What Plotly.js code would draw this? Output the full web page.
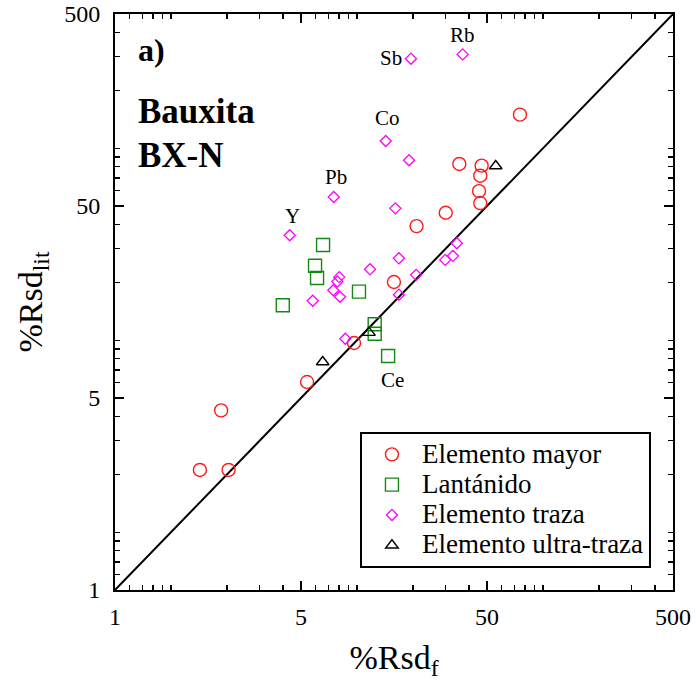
<!DOCTYPE html>
<html>
<head>
<meta charset="utf-8">
<script src="https://cdn.plot.ly/plotly-3.0.1.min.js"></script>
<style>
  html, body { margin: 0; padding: 0; background: #ffffff; }
  #chart { width: 696px; height: 685px; }
</style>
</head>
<body>
<div id="chart"></div>
<script>
// %Rsd found (x) versus %Rsd from the literature (y), bauxite BX-N

// Elemento mayor
const mayorX = [75.2, 35.5, 46.8, 46.0, 45.3, 46.0, 30.0, 20.9, 15.8, 9.64, 5.39, 1.86, 1.43, 2.04];
const mayorY = [149.5, 82.8, 81.1, 71.9, 59.8, 51.8, 46.1, 39.3, 20.1, 9.67, 6.06, 4.31, 2.11, 2.11];

// Lantánido
const lantX = [6.57, 5.95, 6.10, 3.99, 10.25, 12.45, 12.45, 14.7];
const lantY = [31.3, 24.4, 21.1, 15.2, 17.9, 12.1, 10.8, 8.27];
const lantLabels = ['', '', '', '', '', '', '', 'Ce'];

// Elemento traza
const trazaX = [37.0, 19.5, 14.27, 19.04, 7.50, 16.07, 4.35, 34.4, 32.8, 29.8,
                16.8, 11.75, 20.8, 8.03, 7.84, 7.46, 8.10, 5.78, 16.8, 8.65];
const trazaY = [308, 292.6, 109, 86.5, 55.7, 48.6, 35.2, 32.0, 27.5, 26.2,
                26.7, 23.4, 21.9, 21.3, 20.2, 18.2, 16.85, 16.06, 17.26, 10.18];
const trazaLabels = ['Rb', 'Sb', 'Co', '', 'Pb', '', 'Y', '', '', '',
                     '', '', '', '', '', '', '', '', '', ''];

// Elemento ultra-traza
const ultraX = [55.7, 6.54, 11.6];
const ultraY = [80.8, 7.70, 10.95];

// 1:1 reference line and axis ticks
const identity = [0.5, 500];
const tickVals = [0.5, 5, 50, 500];
const tickText = ['1', '5', '50', '500'];

const serif = 'Liberation Serif, Times New Roman, serif';
const logRange = [Math.log10(0.5), Math.log10(500)];

// legend entries are set a little larger than the legend's line pitch
const legendName = s => '<span style="font-size:27px">' + s + '</span>';

// pixel offsets of the element names relative to their marker
const labelOffset = {
  Rb: {xshift: 0, yshift: 19, xanchor: 'center'},
  Sb: {xshift: -7, yshift: 1, xanchor: 'right'},
  Co: {xshift: 2, yshift: 23, xanchor: 'center'},
  Pb: {xshift: 2, yshift: 20, xanchor: 'center'},
  Y:  {xshift: 3, yshift: 19, xanchor: 'center'},
  Ce: {xshift: 4, yshift: -24, xanchor: 'center'}
};

const traces = [
  {
    x: identity, y: identity, mode: 'lines', showlegend: false, hoverinfo: 'skip',
    line: {color: '#000000', width: 2}
  },
  {
    name: legendName('Elemento mayor'), x: mayorX, y: mayorY, mode: 'markers', type: 'scatter',
    marker: {symbol: 'circle-open', size: 13, color: '#ff1a1a', line: {width: 1.4, color: '#ff1a1a'}}
  },
  {
    name: legendName('Lantánido'), x: lantX, y: lantY, mode: 'markers', type: 'scatter',
    marker: {symbol: 'square-open', size: 13, color: '#128a12', line: {width: 1.4, color: '#128a12'}}
  },
  {
    name: legendName('Elemento traza'), x: trazaX, y: trazaY, mode: 'markers', type: 'scatter',
    marker: {symbol: 'diamond-open', size: 8.5, color: '#ff00ff', line: {width: 1.3, color: '#ff00ff'}}
  },
  {
    name: legendName('Elemento ultra-traza'), x: ultraX, y: ultraY, mode: 'markers', type: 'scatter',
    marker: {symbol: 'triangle-up-open', size: 11, color: '#000000', line: {width: 1.4, color: '#000000'}}
  }
];

const annotations = [];
function addLabels(xs, ys, labels) {
  labels.forEach((lab, i) => {
    if (!lab) return;
    const o = labelOffset[lab];
    annotations.push({
      x: Math.log10(xs[i]), y: Math.log10(ys[i]), xref: 'x', yref: 'y',
      text: lab, showarrow: false, xanchor: o.xanchor, yanchor: 'middle',
      xshift: o.xshift, yshift: o.yshift,
      font: {family: serif, size: 21, color: '#000000'}
    });
  });
}
addLabels(trazaX, trazaY, trazaLabels);
addLabels(lantX, lantY, lantLabels);

annotations.push(
  {xref: 'paper', yref: 'paper', x: 0.038, y: 0.9375, xanchor: 'left', yanchor: 'middle',
   text: '<b>a)</b>', showarrow: false, font: {family: serif, size: 32, color: '#000000'}},
  {xref: 'paper', yref: 'paper', x: 0.038, y: 0.830, xanchor: 'left', yanchor: 'middle',
   text: '<b>Bauxita</b>', showarrow: false, font: {family: serif, size: 35, color: '#000000'}},
  {xref: 'paper', yref: 'paper', x: 0.038, y: 0.7535, xanchor: 'left', yanchor: 'middle',
   text: '<b>BX-N</b>', showarrow: false, font: {family: serif, size: 35, color: '#000000'}}
);

// log axis with inside ticks, mirrored onto the top and right edges of the frame
function logAxis(titleText, standoff, labelGap) {
  return {
    type: 'log',
    range: logRange,
    tickmode: 'array', tickvals: tickVals, ticktext: tickText,
    ticks: 'inside', ticklen: 9, tickwidth: 1.5, tickcolor: '#000000',
    ticklabelstandoff: labelGap,
    minor: {ticks: 'inside', ticklen: 5, tickwidth: 1.2, tickcolor: '#000000', dtick: 'D1', showgrid: false},
    showline: true, linewidth: 2, linecolor: '#000000', mirror: 'allticks',
    showgrid: false, zeroline: false,
    tickfont: {family: serif, size: 24, color: '#000000'},
    title: {text: titleText, font: {family: serif, size: 34, color: '#000000'}, standoff: standoff}
  };
}

const layout = {
  width: 696, height: 685,
  margin: {l: 115, r: 23, t: 14, b: 95},
  paper_bgcolor: '#ffffff', plot_bgcolor: '#ffffff',
  xaxis: logAxis('%Rsd<sub>f</sub>', 16, 4),
  yaxis: logAxis('%Rsd<sub>lit</sub>', 11, 8),
  showlegend: true,
  legend: {
    x: 0.439, y: 0.274, xanchor: 'left', yanchor: 'top',
    bgcolor: '#ffffff', bordercolor: '#000000', borderwidth: 2,
    font: {family: serif, size: 21, color: '#000000'},
    itemwidth: 50
  },
  annotations: annotations
};

Plotly.newPlot('chart', traces, layout, {displayModeBar: false, staticPlot: true});
</script>
</body>
</html>
